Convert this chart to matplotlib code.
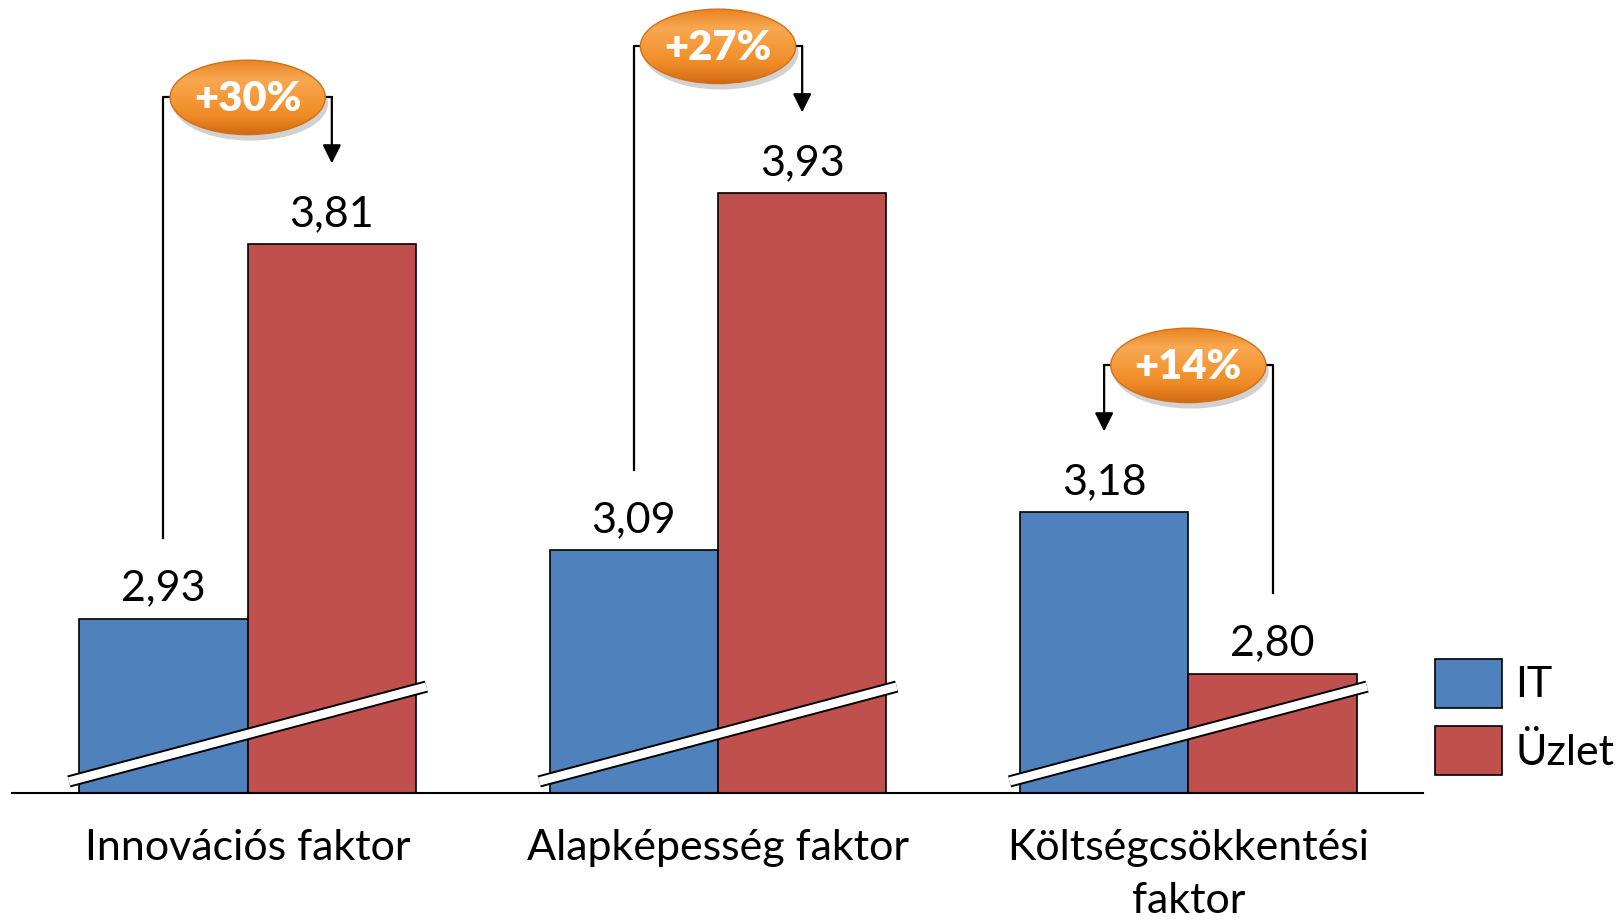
import numpy as np
import matplotlib.pyplot as plt
from matplotlib.patches import Ellipse
from matplotlib.colors import LinearSegmentedColormap

categories = ["Innovációs faktor", "Alapképesség faktor", "Költségcsökkentési\nfaktor"]
it_values = [2.93, 3.09, 3.18]
uzlet_values = [3.81, 3.93, 2.80]
series_names = ["IT", "Üzlet"]

IT_COLOR = "#4F81BD"
UZLET_COLOR = "#C0504D"

plt.rcParams['font.family'] = ['Lato', 'DejaVu Sans']


def fmt(v):
    return f"{v:.2f}".replace(".", ",")


def draw_badge(ax, cx, cy, text):
    w, h = 0.33, 0.175
    # soft shadow under the badge
    ax.add_patch(Ellipse((cx + 0.006, cy - 0.014), w, h, facecolor="#000000",
                         alpha=0.18, edgecolor="none", zorder=5))
    ell = Ellipse((cx, cy), w, h, facecolor="none", edgecolor="#D0701A",
                  lw=1.0, zorder=7)
    ax.add_patch(ell)
    cmap = LinearSegmentedColormap.from_list(
        "badge", ["#CF6A12", "#EE8A26", "#F59A3A", "#F7A852", "#EC8422"])
    grad = np.linspace(0, 1, 100).reshape(-1, 1)
    im = ax.imshow(grad, cmap=cmap, aspect="auto", origin="lower",
                   extent=(cx - w / 2, cx + w / 2, cy - h / 2, cy + h / 2),
                   zorder=6)
    im.set_clip_path(ell)
    ax.text(cx, cy - 0.004, text, color="white", fontsize=30, fontweight="heavy",
            ha="center", va="center", zorder=8)


fig = plt.figure(figsize=(16.2, 9.22), dpi=100)
ax = fig.add_axes([0.0077, 0.14, 0.871, 0.86])

x = np.arange(len(categories))
w = 0.358
y_min, y_max = 2.52, 4.384

bars_it = ax.bar(x - w / 2, it_values, w, color=IT_COLOR,
                 edgecolor="black", lw=1.2, label=series_names[0], zorder=2)
bars_uz = ax.bar(x + w / 2, uzlet_values, w, color=UZLET_COLOR,
                 edgecolor="black", lw=1.2, label=series_names[1], zorder=2)

for bars, vals in ((bars_it, it_values), (bars_uz, uzlet_values)):
    for b, v in zip(bars, vals):
        ax.annotate(fmt(v), (b.get_x() + b.get_width() / 2, v),
                    xytext=(0, 8), textcoords="offset points",
                    ha="center", va="bottom", fontsize=31)

# axis break marks across each group
for c in x:
    xs = [c - 0.38, c + 0.38]
    ys = [y_min + 0.027, y_min + 0.25]
    ax.plot(xs, ys, color="black", lw=8.8, solid_capstyle="butt", zorder=3)
    ax.plot(xs, ys, color="white", lw=6.0, solid_capstyle="butt", zorder=4)

# brackets with percentage badges
lift = 0.19
for c, a, b in zip(x, it_values, uzlet_values):
    top = max(a, b) + 0.345
    x_it, x_uz = c - w / 2, c + w / 2
    if b > a:
        x_from, v_from, x_to, v_to = x_it, a, x_uz, b
    else:
        x_from, v_from, x_to, v_to = x_uz, b, x_it, a
    ax.plot([x_from, x_from, x_to], [v_from + lift, top, top],
            color="black", lw=1.6, zorder=4)
    ax.annotate("", xy=(x_to, v_to + lift), xytext=(x_to, top),
                arrowprops=dict(arrowstyle="-|>", color="black", lw=1.6,
                                mutation_scale=28, shrinkA=0, shrinkB=0),
                zorder=4)
    pct = round((max(a, b) / min(a, b) - 1) * 100)
    draw_badge(ax, c, top, f"+{pct}%")

ax.set_xlim(-0.5, 2.5)
ax.set_ylim(y_min, y_max)
for s in ("top", "right", "left"):
    ax.spines[s].set_visible(False)
ax.spines["bottom"].set_linewidth(1.5)
ax.set_yticks([])
ax.set_xticks(x)
ax.set_xticklabels(categories, fontsize=31, linespacing=1.48)
ax.tick_params(axis="x", length=0, pad=26)

ax.legend(loc="lower left", bbox_to_anchor=(0.886, 0.159),
          bbox_transform=fig.transFigure, frameon=False, fontsize=31,
          handlelength=1.56, handleheight=1.38, handletextpad=0.3,
          labelspacing=0.43, borderpad=0, borderaxespad=0)

fig.savefig("out.png", dpi=100)
